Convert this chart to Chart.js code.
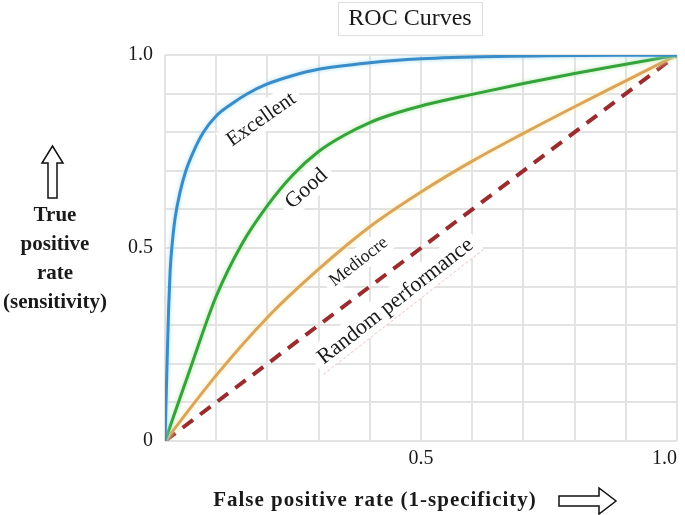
<!DOCTYPE html>
<html>
<head>
<meta charset="utf-8">
<script src="https://cdn.jsdelivr.net/npm/chart.js@4/dist/chart.umd.min.js"></script>
<style>
  html, body { margin: 0; padding: 0; background: #fff; }
  canvas { display: block; }
</style>
</head>
<body>
<canvas id="rocChart" width="685" height="515"></canvas>
<script>
// ROC curves as (false positive rate, true positive rate)
const excellentFpr = [0, 0.004, 0.007, 0.01, 0.014, 0.02, 0.03, 0.04, 0.055, 0.075, 0.1, 0.13, 0.16, 0.2, 0.25, 0.3, 0.4, 0.5, 0.65, 1.0];
const excellentTpr = [0, 0.20, 0.34, 0.44, 0.51, 0.58, 0.648, 0.697, 0.748, 0.80, 0.842, 0.873, 0.899, 0.925, 0.947, 0.963, 0.98, 0.99, 0.996, 1.0];

const goodFpr = [0, 0.05, 0.1, 0.15, 0.2, 0.25, 0.3, 0.35, 0.4, 0.45, 0.5, 0.6, 0.7, 0.8, 0.9, 1.0];
const goodTpr = [0, 0.19, 0.375, 0.51, 0.61, 0.69, 0.75, 0.792, 0.825, 0.849, 0.868, 0.898, 0.926, 0.952, 0.976, 1.0];

const mediocreFpr = [0, 0.1, 0.2, 0.3, 0.4, 0.5, 0.6, 0.7, 0.8, 0.9, 1.0];
const mediocreTpr = [0, 0.17, 0.32, 0.445, 0.555, 0.645, 0.725, 0.797, 0.866, 0.933, 1.0];

const randomFpr = [0, 1.0];
const randomTpr = [0, 1.0];

const yTickLabels = { '0': '0', '0.5': '0.5', '1': '1.0' };
const xTickLabels = { '0.5': '0.5', '1': '1.0' };

// curve names written along the lines: [text, fpr, tpr, angle, font size]
const curveLabels = [
    ['Excellent', 0.187, 0.835, -35, 21],
    ['Good', 0.275, 0.655, -42, 22],
    ['Mediocre', 0.377, 0.466, -38, 18],
    ['Random performance', 0.449, 0.364, -38, 22]
];

function toPoints(xs, ys) {
    return xs.map((x, i) => ({ x: x, y: ys[i] }));
}

function tickKey(v) {
    return String(Math.round(v * 10) / 10);
}

const serif = '"Liberation Serif", "Times New Roman", serif';

const decorations = {
    id: 'decorations',
    beforeDatasetsDraw(chart) {
        const ctx = chart.ctx;
        const xs = chart.scales.x, ys = chart.scales.y;
        curveLabels.forEach(([text, fx, fy, angle, size], i) => {
            ctx.save();
            ctx.translate(xs.getPixelForValue(fx), ys.getPixelForValue(fy));
            ctx.rotate(angle * Math.PI / 180);
            ctx.font = size + 'px ' + serif;
            const w = ctx.measureText(text).width;
            ctx.fillStyle = '#ffffff';
            ctx.fillRect(-w / 2 - 6, -size * 0.65, w + 12, size * 1.3);
            if (i === 3) {
                // faint pink edge under the random label
                ctx.strokeStyle = '#f4cccc';
                ctx.lineWidth = 1;
                ctx.setLineDash([3, 2]);
                ctx.beginPath();
                ctx.moveTo(-w / 2 - 6, size * 0.65);
                ctx.lineTo(w / 2 + 6, size * 0.65);
                ctx.stroke();
            }
            ctx.fillStyle = '#1a1a1a';
            ctx.textAlign = 'center';
            ctx.textBaseline = 'middle';
            ctx.fillText(text, 0, 1);
            ctx.restore();
        });
    },
    beforeDatasetDraw(chart, args) {
        const glow = ['#9fdcf4', '#a9e6a3', '#ffe7a3', null][args.index];
        chart.ctx.save();
        if (glow) {
            chart.ctx.shadowColor = glow;
            chart.ctx.shadowBlur = 4;
        }
    },
    afterDatasetDraw(chart) {
        chart.ctx.restore();
    },
    afterDraw(chart) {
        const ctx = chart.ctx;
        ctx.save();
        // title in a thin box
        ctx.strokeStyle = '#dedede';
        ctx.lineWidth = 1;
        ctx.strokeRect(338.5, 2.5, 144, 33);
        ctx.fillStyle = '#1a1a1a';
        ctx.font = '24px ' + serif;
        ctx.textAlign = 'center';
        ctx.textBaseline = 'middle';
        ctx.fillText('ROC Curves', 410, 19);

        // y axis title
        ctx.font = 'bold 21px ' + serif;
        ['True', 'positive', 'rate', '(sensitivity)'].forEach((line, i) => {
            ctx.fillText(line, 55, 216 + i * 29);
        });
        // x axis title
        ctx.letterSpacing = '1px';
        ctx.fillText('False positive rate (1-specificity)', 375, 501);
        ctx.letterSpacing = '0px';

        // hollow arrows
        ctx.strokeStyle = '#111';
        ctx.lineWidth = 1.5;
        ctx.beginPath();
        ctx.moveTo(48, 198); ctx.lineTo(57, 198); ctx.lineTo(57, 163);
        ctx.lineTo(63, 163); ctx.lineTo(52.5, 146); ctx.lineTo(42, 163);
        ctx.lineTo(48, 163); ctx.closePath();
        ctx.stroke();
        ctx.beginPath();
        ctx.moveTo(559, 496); ctx.lineTo(599, 496); ctx.lineTo(599, 488);
        ctx.lineTo(616, 501); ctx.lineTo(599, 514); ctx.lineTo(599, 506);
        ctx.lineTo(559, 506); ctx.closePath();
        ctx.stroke();
        ctx.restore();
    }
};

const rocCtx = document.getElementById('rocChart');
const rocChart = new Chart(rocCtx, {
    type: 'line',
    data: {
        datasets: [{
            label: 'Excellent',
            data: toPoints(excellentFpr, excellentTpr),
            borderColor: '#3a8cc9',
            borderWidth: 3
        }, {
            label: 'Good',
            data: toPoints(goodFpr, goodTpr),
            borderColor: '#35a33a',
            borderWidth: 3
        }, {
            label: 'Mediocre',
            data: toPoints(mediocreFpr, mediocreTpr),
            borderColor: '#d9a55c',
            borderWidth: 3
        }, {
            label: 'Random performance',
            data: toPoints(randomFpr, randomTpr),
            borderColor: '#9b2c2e',
            borderWidth: 4,
            borderDash: [13, 9]
        }]
    },
    options: {
        responsive: false,
        animation: false,
        elements: {
            point: { radius: 0 },
            line: { cubicInterpolationMode: 'monotone', fill: false }
        },
        layout: {
            padding: { top: 55, right: 8, left: 0, bottom: 0 }
        },
        plugins: {
            legend: { display: false },
            tooltip: { enabled: false }
        },
        scales: {
            x: {
                type: 'linear',
                min: 0,
                max: 1,
                afterFit: s => { s.height = 74; },
                border: { display: false },
                grid: { color: '#e3e3e3', lineWidth: 2, drawTicks: false },
                ticks: {
                    stepSize: 0.1,
                    autoSkip: false,
                    maxRotation: 0,
                    align: 'inner',
                    padding: 6,
                    color: '#1a1a1a',
                    font: { family: serif, size: 20 },
                    callback: v => xTickLabels[tickKey(v)] || ''
                }
            },
            y: {
                type: 'linear',
                min: 0,
                max: 1,
                afterFit: s => { s.width = 165; },
                border: { display: false },
                grid: { color: '#e3e3e3', lineWidth: 2, drawTicks: false },
                ticks: {
                    stepSize: 0.1,
                    autoSkip: false,
                    padding: 12,
                    color: '#1a1a1a',
                    font: { family: serif, size: 20 },
                    callback: v => yTickLabels[tickKey(v)] || ''
                }
            }
        }
    },
    plugins: [decorations]
});
</script>
</body>
</html>
